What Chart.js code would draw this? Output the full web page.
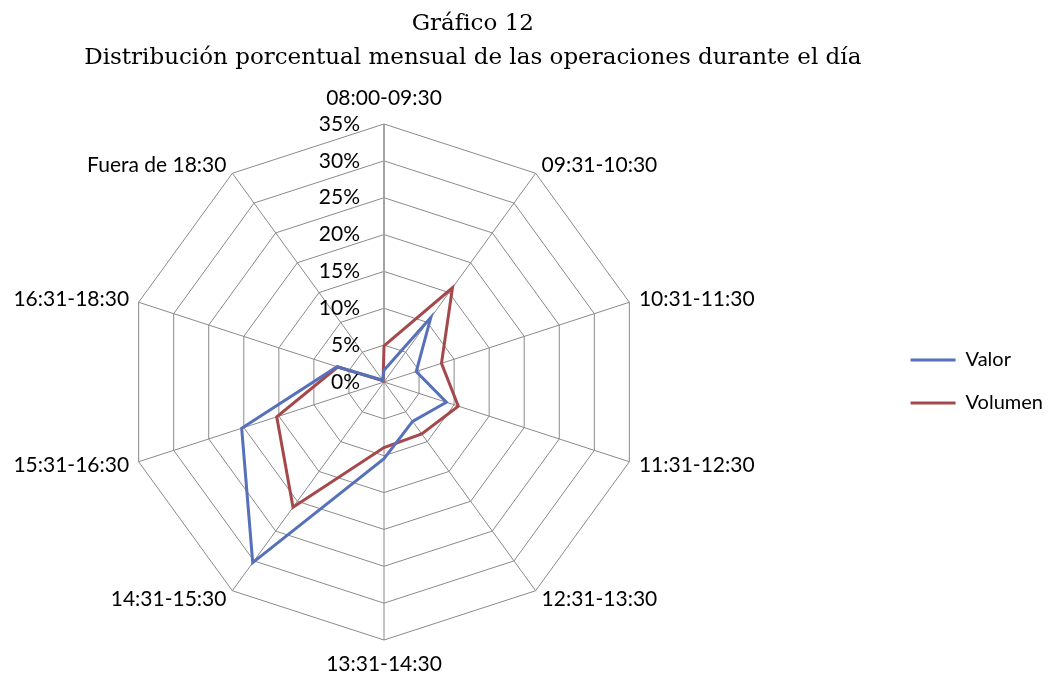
<!DOCTYPE html>
<html lang="es">
<head>
<meta charset="utf-8">
<title>Gráfico 12</title>
<script src="https://cdn.jsdelivr.net/npm/chart.js@4.4.1/dist/chart.umd.min.js"></script>
<style>
  html, body { margin: 0; padding: 0; background: #fff; }
  #wrap { width: 1053px; height: 675px; }
</style>
</head>
<body>
<div id="wrap"><canvas id="grafico" width="1053" height="675"></canvas></div>
<script>
// franjas horarias (ejes del radar)
const horarios = ['08:00-09:30', '09:31-10:30', '10:31-11:30', '11:31-12:30', '12:31-13:30',
  '13:31-14:30', '14:31-15:30', '15:31-16:30', '16:31-18:30', 'Fuera de 18:30'];
// % del valor operado en cada franja
const valor = [1.6, 10.8, 4.6, 8.9, 6.6, 10.4, 30.3, 20.3, 6.7, 0.3];
// % del numero de operaciones en cada franja
const volumen = [4.9, 15.8, 8.2, 10.6, 8.7, 8.9, 21.0, 15.3, 6.6, 0.2];
// eje de porcentajes
const escalaMin = 0;
const escalaMax = 35;
const escalaPaso = 5;

const FUENTE = 'Lato, "Liberation Sans", sans-serif';

// etiquetas de las franjas y del eje, colocadas como las pone Excel
const textosRadar = {
  id: 'textosRadar',
  afterDraw(chart) {
    const r = chart.scales.r;
    const ctx = chart.ctx;
    ctx.save();
    ctx.fillStyle = '#000';
    ctx.font = '21px ' + FUENTE;
    ctx.textBaseline = 'middle';
    chart.data.labels.forEach((txt, i) => {
      const p = r.getPointPosition(i, r.drawingArea + 10);
      const dx = Math.cos(p.angle);
      if (Math.abs(dx) < 0.01) {
        ctx.textAlign = 'center';
        ctx.fillText(txt, p.x, p.y + (Math.sin(p.angle) < 0 ? -16 : 14));
      } else {
        ctx.textAlign = dx > 0 ? 'left' : 'right';
        ctx.fillText(txt, p.x, p.y);
      }
    });
    ctx.textAlign = 'right';
    r.ticks.forEach(t => {
      const d = r.getDistanceFromCenterForValue(t.value);
      ctx.fillText(t.value + '%', r.xCenter - 24, r.yCenter - d);
    });
    ctx.restore();
  }
};

new Chart(document.getElementById('grafico'), {
  type: 'radar',
  data: {
    labels: horarios,
    datasets: [
      {
        label: 'Valor',
        data: valor,
        borderColor: '#5671b9',
        backgroundColor: '#5671b9',
        borderWidth: 3,
        fill: false,
        pointRadius: 0
      },
      {
        label: 'Volumen',
        data: volumen,
        borderColor: '#a5484a',
        backgroundColor: '#a5484a',
        borderWidth: 3,
        fill: false,
        pointRadius: 0
      }
    ]
  },
  options: {
    responsive: false,
    animation: false,
    layout: { padding: { left: 58 } },
    scales: {
      r: {
        min: escalaMin,
        max: escalaMax,
        ticks: { stepSize: escalaPaso, display: false },
        pointLabels: { display: false },
        grid: { color: '#8a8a8a', lineWidth: 1 },
        angleLines: {
          color: c => c.index === 0 ? '#a3a3a3' : '#8a8a8a',
          lineWidth: c => c.index === 0 ? 2 : 1
        },
        // centro y radio fijos, como en el original
        afterFit: s => {
          s.xCenter = 384;
          s.yCenter = 382;
          s.drawingArea = 258;
        }
      }
    },
    plugins: {
      title: {
        display: true,
        fullSize: false,
        text: ['Gráfico 12', 'Distribución porcentual mensual de las operaciones durante el día'],
        color: '#000',
        font: { family: '"DejaVu Serif", serif', size: 23, weight: 'normal', lineHeight: 1.48 },
        padding: { top: 7, bottom: 13 }
      },
      legend: {
        position: 'right',
        fullSize: false,
        labels: {
          color: '#000',
          font: { family: FUENTE, size: 20 },
          usePointStyle: true,
          pointStyle: 'line',
          pointStyleWidth: 45,
          padding: 23
        }
      },
      tooltip: { enabled: false }
    }
  },
  plugins: [textosRadar]
});
</script>
</body>
</html>
